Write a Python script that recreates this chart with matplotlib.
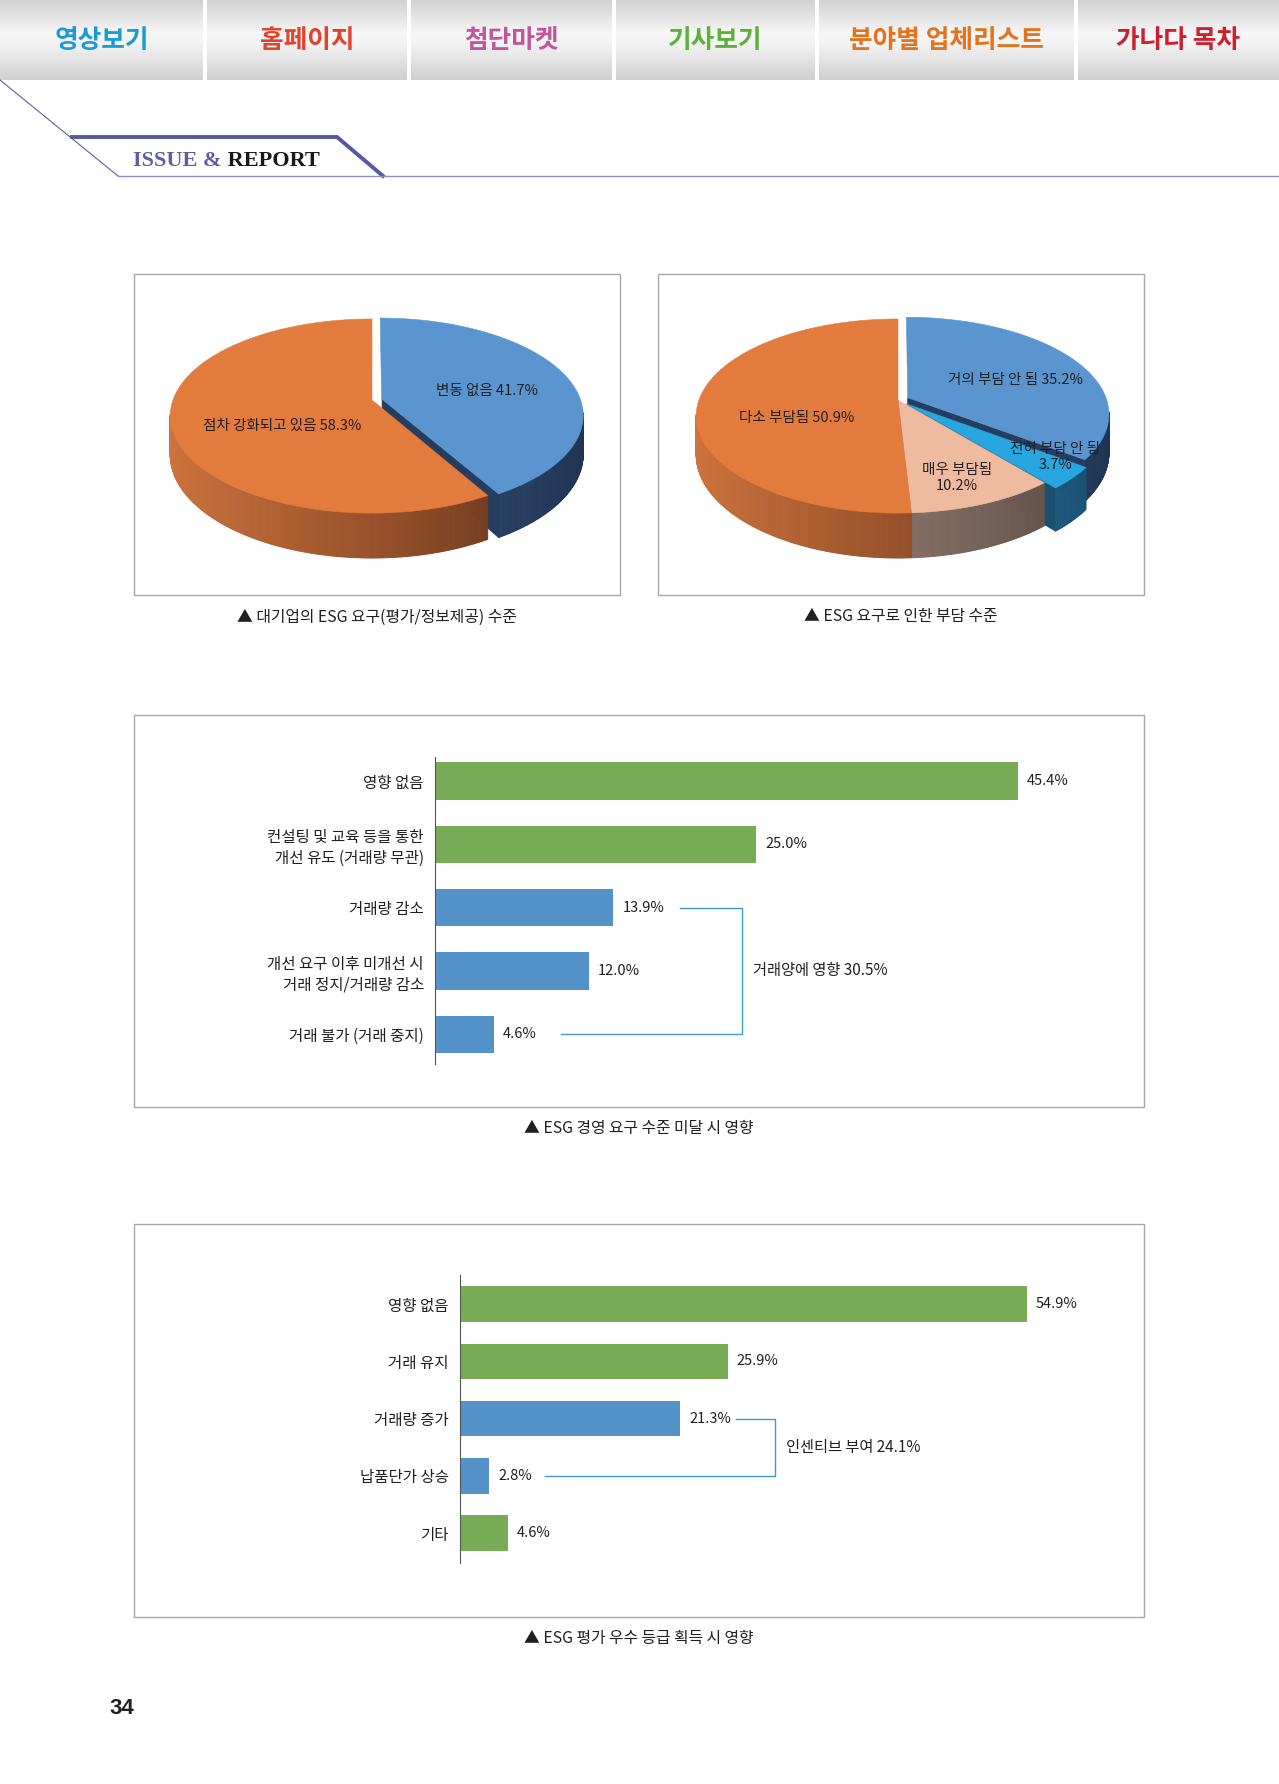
import numpy as np
import matplotlib
matplotlib.use('Agg')
import matplotlib.pyplot as plt
from matplotlib.patches import Polygon, Rectangle
from matplotlib.collections import PolyCollection
from matplotlib.colors import to_rgb

plt.rcParams['font.family'] = ['Noto Sans CJK KR', 'DejaVu Sans']

# ---------------- data ----------------
nav_labels = ['영상보기', '홈페이지', '첨단마켓', '기사보기', '분야별 업체리스트', '가나다 목차']
nav_colors = ['#1a9ad6', '#e5422b', '#c2569c', '#5db13a', '#e5721c', '#cf1f2e']

pie1_labels = ['변동 없음', '점차 강화되고 있음']
pie1_values = [41.7, 58.3]
pie1_title = '▲ 대기업의 ESG 요구(평가/정보제공) 수준'

pie2_labels = ['거의 부담 안 됨', '전혀 부담 안 됨', '매우 부담됨', '다소 부담됨']
pie2_values = [35.2, 3.7, 10.2, 50.9]
pie2_title = '▲ ESG 요구로 인한 부담 수준'

bar1_labels = ['영향 없음', '컨설팅 및 교육 등을 통한\n개선 유도 (거래량 무관)', '거래량 감소',
               '개선 요구 이후 미개선 시\n거래 정지/거래량 감소', '거래 불가 (거래 중지)']
bar1_values = [45.4, 25.0, 13.9, 12.0, 4.6]
bar1_blue = [False, False, True, True, True]
bar1_group = [2, 3, 4]
bar1_note = '거래양에 영향 30.5%'
bar1_title = '▲ ESG 경영 요구 수준 미달 시 영향'

bar2_labels = ['영향 없음', '거래 유지', '거래량 증가', '납품단가 상승', '기타']
bar2_values = [54.9, 25.9, 21.3, 2.8, 4.6]
bar2_blue = [False, False, True, True, False]
bar2_group = [2, 3]
bar2_note = '인센티브 부여 24.1%'
bar2_title = '▲ ESG 평가 우수 등급 획득 시 영향'

page_number = '34'

# ---------------- figure ----------------
W, H = 1279, 1784
fig = plt.figure(figsize=(W / 100, H / 100), dpi=100)
fig.patch.set_facecolor('white')
ax = fig.add_axes([0, 0, 1, 1])
ax.set_xlim(0, W)
ax.set_ylim(H, 0)
ax.axis('off')

TXT = '#231f20'

# ---- header tabs ----
tabs = [(0, 203), (207, 407), (411, 612), (616, 815), (819, 1074), (1078, 1279)]
stops = [(0.0, '#d2d2d2'), (0.42, '#f7f7f7'), (0.55, '#f3f3f3'), (1.0, '#d0d0d0')]
yy = np.linspace(0, 1, 80)
grad = np.zeros((80, 1, 3))
for c in range(3):
    grad[:, 0, c] = np.interp(yy, [s[0] for s in stops], [to_rgb(s[1])[c] for s in stops])
for (x0, x1), lab, col in zip(tabs, nav_labels, nav_colors):
    ax.imshow(grad, extent=(x0, x1, 80, 0), aspect='auto', interpolation='bilinear', zorder=1)
    ax.text((x0 + x1) / 2, 41, lab, ha='center', va='center', fontsize=18.5,
            fontweight='bold', color=col, zorder=2)
ax.set_xlim(0, W)
ax.set_ylim(H, 0)

# ---- ISSUE & REPORT banner ----
ax.plot([0, 118], [80, 176], color='#5a60a8', lw=0.8, zorder=2)
ax.plot([72, 337, 383], [137, 137, 176], color='#5558a5', lw=2.8,
        solid_joinstyle='miter', zorder=2)
ax.plot([118, W], [176, 176], color='#8a8fc4', lw=1.0, zorder=2)
t1 = ax.text(133, 166, 'ISSUE &', family='Liberation Serif', fontweight='bold',
             fontsize=16, color='#5b5ea6', ha='left', va='baseline')
ax.annotate(' REPORT', xy=(1, 0), xycoords=t1, family='Liberation Serif',
            fontweight='bold', fontsize=16, color='#1a1718', ha='left', va='bottom')

# ---- boxes ----
boxes = [(134, 274, 620, 595), (658, 274, 1144, 595),
         (134, 715, 1144, 1107), (134, 1224, 1144, 1617)]
for (x0, y0, x1, y1) in boxes:
    ax.add_patch(Rectangle((x0, y0), x1 - x0, y1 - y0, fill=False,
                           edgecolor='#a8a8a8', lw=1.0, zorder=1))


def blend(c1, c2, f):
    a, b = np.array(to_rgb(c1)), np.array(to_rgb(c2))
    return tuple(b + (a - b) * f)


def pie3d(values, cx, cy, rx, ry, depth, persp, tops, lights, darks, radials, explode):
    """3-D pie with simple perspective: u right, v away from viewer, h down."""
    def P(u, v, h):
        s = 1.0 / (1.0 + persp * v)
        return cx + rx * u * s, cy + (-ry * v + depth * h) * s

    fr = np.array(values) / np.sum(values)
    angs = 90 - np.concatenate([[0], np.cumsum(fr)]) * 360
    radial_polys, radial_cols = [], []
    wall_polys, wall_cols = [], []
    top_polys = []
    for i in range(len(values)):
        a0, a1 = angs[i], angs[i + 1]
        mid = np.radians((a0 + a1) / 2)
        ou, ov = explode[i] * np.cos(mid), explode[i] * np.sin(mid)
        n = max(4, int(abs(a0 - a1) * 2))
        t = np.radians(np.linspace(a0, a1, n))
        us, vs = ou + np.cos(t), ov + np.sin(t)
        top = [P(ou, ov, 0)] + [P(u, v, 0) for u, v in zip(us, vs)]
        top_polys.append((top, tops[i]))
        for a, nrm in [(a0, a0 + 90), (a1, a1 - 90)]:
            if np.sin(np.radians(nrm)) < -1e-3:
                eu, ev = ou + np.cos(np.radians(a)), ov + np.sin(np.radians(a))
                radial_polys.append([P(ou, ov, 0), P(eu, ev, 0), P(eu, ev, 1), P(ou, ov, 1)])
                radial_cols.append(radials[i])
        for k in range(n - 1):
            tm = (t[k] + t[k + 1]) / 2
            if np.sin(tm) < -persp * 0.9:
                f = ((1 - np.cos(tm)) / 2) ** 0.8
                col = blend(lights[i], darks[i], f)
                wall_polys.append([P(us[k], vs[k], 0), P(us[k + 1], vs[k + 1], 0),
                                   P(us[k + 1], vs[k + 1], 1), P(us[k], vs[k], 1)])
                wall_cols.append(col)
    ax.add_collection(PolyCollection(radial_polys, facecolors=radial_cols,
                                     edgecolors=radial_cols, linewidths=0.5, zorder=3))
    ax.add_collection(PolyCollection(wall_polys, facecolors=wall_cols,
                                     edgecolors=wall_cols, linewidths=0.7, zorder=4))
    for poly, col in top_polys:
        ax.add_patch(Polygon(poly, closed=True, facecolor=col, edgecolor=col,
                             lw=0.4, zorder=5))


ORANGE, BLUE, PEACH, CYAN = '#e37a3e', '#5a95cf', '#eebba0', '#28a6df'
PFS = 10.5

# ---- pie 1 ----
pie3d(pie1_values, 372, 400, 199, 94.4, 37.5, 0.165,
      tops=[BLUE, ORANGE], lights=['#3a5a85', '#cf743d'], darks=['#1f3250', '#4a2412'],
      radials=['#263d60', '#7a3a1c'], explode=[0.05, 0])
ax.text(487, 391, f'{pie1_labels[0]} {pie1_values[0]}%', ha='center', va='center',
        fontsize=PFS, color=TXT, zorder=6)
ax.text(282, 426, f'{pie1_labels[1]} {pie1_values[1]}%', ha='center', va='center',
        fontsize=PFS, color=TXT, zorder=6)
ax.text(377, 617, pie1_title, ha='center', va='center', fontsize=11.4, color=TXT)

# ---- pie 2 ----
pie3d(pie2_values, 898, 400, 199, 94.4, 37.5, 0.165,
      tops=[BLUE, CYAN, PEACH, ORANGE],
      lights=['#3a5a85', '#2a80b0', '#b09484', '#cf743d'],
      darks=['#1f3250', '#184a6a', '#4c3f39', '#4a2412'],
      radials=['#263d60', '#1b5070', '#6e5a50', '#7a3a1c'],
      explode=[0.055, 0.06, 0, 0])
ax.text(1015, 380, f'{pie2_labels[0]} {pie2_values[0]}%', ha='center', va='center',
        fontsize=PFS, color=TXT, zorder=6)
ax.text(1055, 457, f'{pie2_labels[1]}\n{pie2_values[1]}%', ha='center', va='center',
        fontsize=PFS, color=TXT, zorder=6, linespacing=1.1)
ax.text(957, 478, f'{pie2_labels[2]}\n{pie2_values[2]}%', ha='center', va='center',
        fontsize=PFS, color=TXT, zorder=6, linespacing=1.1)
ax.text(797, 418, f'{pie2_labels[3]} {pie2_values[3]}%', ha='center', va='center',
        fontsize=PFS, color=TXT, zorder=6)
ax.text(901, 617, pie2_title, ha='center', va='center', fontsize=11.4, color=TXT)

GREEN, BBLUE, BRACKET = '#78ab56', '#5592c9', '#3c9ad6'


def px_axes(x0, y0, x1, y1):
    return fig.add_axes([x0 / W, 1 - y1 / H, (x1 - x0) / W, (y1 - y0) / H])


def bar_chart(bax, labels, values, blue, xmax, ylo, yhi, height, group, bx_right,
              gap, note, note_y, note_dx):
    n = len(values)
    pos = np.arange(n)
    cols = [BBLUE if b else GREEN for b in blue]
    bax.barh(pos, values, height=height, color=cols, zorder=2)
    bax.set_xlim(0, xmax)
    bax.set_ylim(ylo, yhi)
    bax.set_facecolor('none')
    for s in ['top', 'right', 'bottom']:
        bax.spines[s].set_visible(False)
    bax.spines['left'].set_color('#555555')
    bax.spines['left'].set_linewidth(0.8)
    bax.set_xticks([])
    bax.set_yticks(pos)
    bax.set_yticklabels(labels, fontsize=11.2, color=TXT, linespacing=1.27)
    for lab in bax.get_yticklabels():
        lab.set_multialignment('right')
    bax.tick_params(axis='y', length=0, pad=8)
    for p, v in zip(pos, values):
        bax.annotate(f'{v:.1f}%', xy=(v, p), xytext=(6.5, 0), textcoords='offset points',
                     ha='left', va='center', fontsize=10.5, color=TXT)
    top, bot = group[0], group[-1]
    bax.plot([values[top] + gap, bx_right, bx_right, values[bot] + gap],
             [top, top, bot, bot], color=BRACKET, lw=1.0, clip_on=False)
    bax.text(bx_right + note_dx, note_y, note, ha='left', va='center', fontsize=11,
             color=TXT)


b1 = px_axes(435, 757, 435 + 12.84 * 55, 1064)
bar_chart(b1, bar1_labels, bar1_values, bar1_blue, 55, 4.47, -0.38, 0.59,
          bar1_group, 23.9, 5.2, bar1_note, 3, 0.9)
ax.text(639, 1129, bar1_title, ha='center', va='center', fontsize=11.4, color=TXT)

b2 = px_axes(460, 1275, 460 + 10.33 * 65, 1563)
bar_chart(b2, bar2_labels, bar2_values, bar2_blue, 65, 4.52, -0.51, 0.62,
          bar2_group, 30.5, 5.4, bar2_note, 2.5, 1.1)
ax.text(639, 1639, bar2_title, ha='center', va='center', fontsize=11.4, color=TXT)

# ---- page number ----
ax.text(122, 1709, page_number, ha='center', va='center', fontsize=16,
        fontweight='bold', family='Liberation Sans', color=TXT)

fig.savefig('out.png', dpi=100, facecolor='white')
